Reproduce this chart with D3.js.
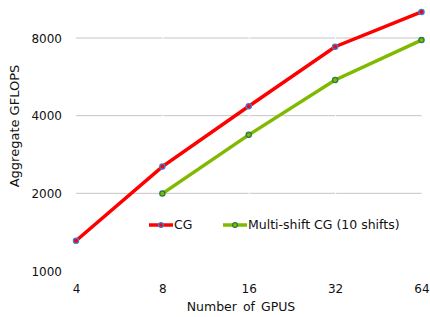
<!DOCTYPE html>
<html>
<head>
<meta charset="utf-8">
<script src="https://cdn.jsdelivr.net/npm/d3@7"></script>
<style>
  body { margin: 0; background: #fff; }
  text { font-family: "DejaVu Sans", sans-serif; fill: #111; }
</style>
</head>
<body>
<svg id="chart" width="430" height="317"></svg>
<script>
const gpus = [4, 8, 16, 32, 64];
const yTicks = [1000, 2000, 4000, 8000];
const cgValues = [1310, 2540, 4350, 7400, 10100];
const msGpus = [8, 16, 32, 64];
const msValues = [1995, 3370, 5500, 7850];
const seriesNames = ["CG", "Multi-shift CG (10 shifts)"];

var svg = d3.select("#chart");

var xScale = d3.scaleLog().base(2).domain([4, 64]).range([76, 421.5]);
var yScale = d3.scaleLog().base(2).domain([1000, 8000]).range([271, 38]);

// gridlines (split at each category boundary)
var grid = svg.append("g");
yTicks.slice(1).forEach(function (t) {
	for (var i = 0; i < gpus.length - 1; i++) {
		grid.append("line")
			.attr("x1", xScale(gpus[i]) + (i == 0 ? 0 : 1))
			.attr("x2", xScale(gpus[i + 1]))
			.attr("y1", yScale(t))
			.attr("y2", yScale(t))
			.attr("stroke", "#c4c4c4")
			.attr("stroke-width", 1);
	}
});

// axes (labels only)
var yAxis = svg.append("g")
	.attr("transform", "translate(76,0)")
	.call(d3.axisLeft(yScale).tickValues(yTicks).tickSize(0).tickPadding(14).tickFormat(d3.format("d")));
yAxis.select(".domain").remove();
yAxis.selectAll("text").style("font-size", "12px").attr("dy", "0.35em");

var xAxis = svg.append("g")
	.attr("transform", "translate(0,281)")
	.call(d3.axisBottom(xScale).tickValues(gpus).tickSize(0).tickPadding(3).tickFormat(d3.format("d")));
xAxis.select(".domain").remove();
xAxis.selectAll("text").style("font-size", "12px");

// axis titles
svg.append("text")
	.attr("transform", "translate(19,126)rotate(-90)")
	.attr("text-anchor", "middle")
	.style("font-size", "13px")
	.text("Aggregate GFLOPS");

svg.append("text")
	.attr("x", 241)
	.attr("y", 311)
	.attr("text-anchor", "middle")
	.style("font-size", "12.5px")
	.style("word-spacing", "2px")
	.text("Number of GPUS");

var line = d3.line()
	.x(function (d) { return xScale(d[0]); })
	.y(function (d) { return yScale(d[1]); });

var cgData = d3.zip(gpus, cgValues);
var msData = d3.zip(msGpus, msValues);

svg.append("path").datum(msData)
	.attr("d", line).attr("fill", "none")
	.attr("stroke", "#7fba00").attr("stroke-width", 3.5);
svg.append("path").datum(cgData)
	.attr("d", line).attr("fill", "none")
	.attr("stroke", "#ff0000").attr("stroke-width", 3.5);

svg.append("g").selectAll("circle").data(msData).enter().append("circle")
	.attr("cx", function (d) { return xScale(d[0]); })
	.attr("cy", function (d) { return yScale(d[1]); })
	.attr("r", 2.6)
	.attr("fill", "#7fba00").attr("stroke", "#2a7a50").attr("stroke-width", 1.3);
svg.append("g").selectAll("circle").data(cgData).enter().append("circle")
	.attr("cx", function (d) { return xScale(d[0]); })
	.attr("cy", function (d) { return yScale(d[1]); })
	.attr("r", 2.6)
	.attr("fill", "#ff0000").attr("stroke", "#3b7dd8").attr("stroke-width", 1.3);

// legend
var legend = [
	{ name: seriesNames[0], x: 149, color: "#ff0000", mark: "#3b7dd8" },
	{ name: seriesNames[1], x: 223, color: "#7fba00", mark: "#2a7a50" }
];
var lg = svg.append("g").selectAll("g").data(legend).enter().append("g")
	.attr("transform", function (d) { return "translate(" + d.x + ",225)"; });
lg.append("line").attr("x1", 0).attr("x2", 24)
	.attr("stroke", function (d) { return d.color; }).attr("stroke-width", 3.5);
lg.append("circle").attr("cx", 12).attr("r", 2.4)
	.attr("fill", function (d) { return d.color; })
	.attr("stroke", function (d) { return d.mark; }).attr("stroke-width", 1.3);
lg.append("text").attr("x", 25).attr("dy", "0.35em")
	.style("font-size", "12.5px")
	.text(function (d) { return d.name; });
</script>
</body>
</html>
